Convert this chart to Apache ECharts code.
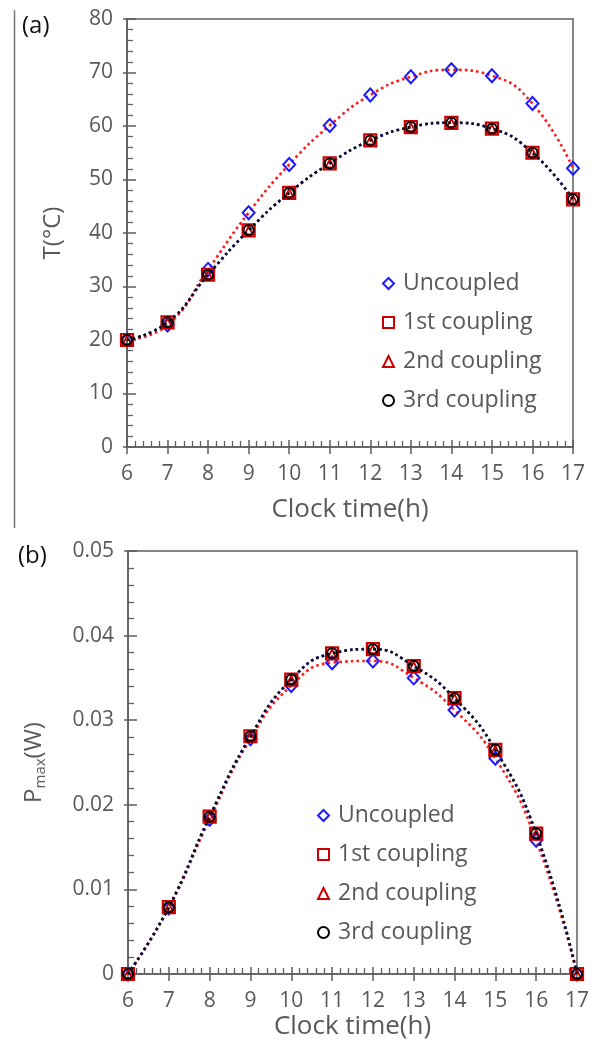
<!DOCTYPE html>
<html><head><meta charset="utf-8">
<script src="https://cdn.jsdelivr.net/npm/echarts@6/dist/echarts.min.js"></script>
<style>html,body{margin:0;padding:0;background:#fff}#c{width:597px;height:1048px}</style>
</head><body><div id="c"></div>
<script>
const hours = [6, 7, 8, 9, 10, 11, 12, 13, 14, 15, 16, 17];
const xTicks = ['6','7','8','9','10','11','12','13','14','15','16','17'];
const seriesNames = ['Uncoupled', '1st coupling', '2nd coupling', '3rd coupling'];
// (a) temperature
const tUncoupled = [20, 22.8, 33.2, 43.8, 52.8, 60.1, 65.8, 69.2, 70.5, 69.4, 64.2, 52.1];
const tCoupled1 = [20, 23.3, 32.2, 40.5, 47.5, 53.0, 57.3, 59.8, 60.6, 59.5, 55.0, 46.3];
const tCoupled2 = [20, 23.3, 32.2, 40.5, 47.5, 53.0, 57.3, 59.8, 60.6, 59.5, 55.0, 46.3];
const tCoupled3 = [20, 23.3, 32.2, 40.5, 47.5, 53.0, 57.3, 59.8, 60.6, 59.5, 55.0, 46.3];
const tTicks = ['0', '10', '20', '30', '40', '50', '60', '70', '80'];
// (b) max power
const pUncoupled = [0, 0.0078, 0.0183, 0.0278, 0.0341, 0.0368, 0.0370, 0.0350, 0.0312, 0.0255, 0.0158, 0];
const pCoupled1 = [0, 0.0079, 0.0186, 0.0281, 0.0348, 0.0379, 0.0384, 0.0364, 0.0326, 0.0265, 0.0166, 0];
const pCoupled2 = [0, 0.0079, 0.0186, 0.0281, 0.0348, 0.0379, 0.0384, 0.0364, 0.0326, 0.0265, 0.0166, 0];
const pCoupled3 = [0, 0.0079, 0.0186, 0.0281, 0.0348, 0.0379, 0.0384, 0.0364, 0.0326, 0.0265, 0.0166, 0];
const pTicks = ['0', '0.01', '0.02', '0.03', '0.04', '0.05'];

const FONT = 'Open Sans';
const GRAY = '#595959';
const AX = '#5e5e5e';

const pairs = (arr) => hours.map((h, i) => [h, arr[i]]);

const chart = echarts.init(document.getElementById('c'), null, {renderer: 'canvas'});

function xAxes(gi, name, nameGap) {
  return [{
    type: 'value', gridIndex: gi, min: 6, max: 17, interval: 1, position: 'bottom',
    name: name, nameLocation: 'middle', nameGap: nameGap,
    nameTextStyle: {fontFamily: FONT, fontSize: 26, color: GRAY},
    axisLine: {show: true, onZero: false, lineStyle: {color: AX, width: 1.5}},
    axisTick: {show: true, inside: false, length: 7, lineStyle: {color: AX, width: 1.5}},
    minorTick: {show: false},
    splitLine: {show: false},
    axisLabel: {fontFamily: FONT, fontSize: 21, color: GRAY, margin: 17,
      formatter: (v) => xTicks[hours.indexOf(v)] || ''}
  }, {
    type: 'value', gridIndex: gi, min: 6, max: 17, interval: 1, position: 'bottom',
    axisLine: {show: false, onZero: false},
    axisTick: {show: true, inside: true, length: 7, lineStyle: {color: AX, width: 1.5}},
    minorTick: {show: true, splitNumber: 5, length: 6, lineStyle: {color: AX, width: 1.3}},
    splitLine: {show: false}, axisLabel: {show: false}
  }];
}
function yAxes(gi, min, max, interval, nameRich, nameGap, fmt) {
  return [{
    type: 'value', gridIndex: gi, min: min, max: max, interval: interval, position: 'left',
    name: nameRich.text, nameLocation: 'middle', nameGap: nameGap, nameRotate: 90,
    nameTextStyle: Object.assign({fontFamily: FONT, fontSize: 24, color: GRAY}, nameRich.style || {}),
    axisLine: {show: true, onZero: false, lineStyle: {color: AX, width: 1.5}},
    axisTick: {show: true, inside: false, length: 4, lineStyle: {color: AX, width: 1.5}},
    minorTick: {show: false}, splitLine: {show: false},
    axisLabel: {fontFamily: FONT, fontSize: 21, color: GRAY, margin: 14, formatter: fmt}
  }, {
    type: 'value', gridIndex: gi, min: min, max: max, interval: interval, position: 'left',
    axisLine: {show: false, onZero: false},
    axisTick: {show: true, inside: true, length: 9, lineStyle: {color: AX, width: 1.5}},
    minorTick: {show: true, splitNumber: 5, length: 6, lineStyle: {color: AX, width: 1.3}},
    splitLine: {show: false}, axisLabel: {show: false}
  }];
}

function makeSeries(gi, data, sizes) {
  const xi = gi * 2, yi = gi * 2;
  const dot = (c) => ({color: c, width: 2.6, type: [2.6, 3.2], cap: 'butt'});
  return [
    {name: seriesNames[0], type: 'line', xAxisIndex: xi, yAxisIndex: yi, data: pairs(data[0]),
      smooth: 0.5, clip: false, symbol: 'diamond', symbolSize: [sizes[0], sizes[0] + 1],
      lineStyle: dot('#ff1a1a'),
      itemStyle: {color: 'rgba(255,255,255,0)', borderColor: '#1a1aff', borderWidth: 2}, z: 3},
    {name: seriesNames[1], type: 'line', xAxisIndex: xi, yAxisIndex: yi, data: pairs(data[1]),
      smooth: 0.5, clip: false, symbol: 'rect', symbolSize: sizes[1],
      lineStyle: dot('#2626ff'),
      itemStyle: {color: 'rgba(255,255,255,0)', borderColor: '#cc0000', borderWidth: 2.2}, z: 4},
    {name: seriesNames[2], type: 'line', xAxisIndex: xi, yAxisIndex: yi, data: pairs(data[2]),
      smooth: 0.5, clip: false, symbol: 'triangle', symbolSize: sizes[2],
      lineStyle: {width: 0, opacity: 0},
      itemStyle: {color: 'rgba(255,255,255,0)', borderColor: '#cc0000', borderWidth: 1.8}, z: 5},
    {name: seriesNames[3], type: 'line', xAxisIndex: xi, yAxisIndex: yi, data: pairs(data[3]),
      smooth: 0.5, clip: false, symbol: 'circle', symbolSize: sizes[3],
      lineStyle: dot('#111111'),
      itemStyle: {color: 'rgba(255,255,255,0)', borderColor: '#000000', borderWidth: 2}, z: 6}
  ];
}

function legend(left, top) {
  return {
    orient: 'vertical', left: left, top: top, itemWidth: 11, itemHeight: 11, itemGap: 16,
    textStyle: {fontFamily: FONT, fontSize: 23, color: GRAY, lineHeight: 22, padding: [0, 0, 0, 4]},
    selectedMode: false,
    data: [
      {name: seriesNames[0], icon: 'diamond', itemStyle: {color: '#fff', borderColor: '#1a1aff', borderWidth: 2}},
      {name: seriesNames[1], icon: 'rect', itemStyle: {color: '#fff', borderColor: '#cc0000', borderWidth: 2}},
      {name: seriesNames[2], icon: 'triangle', itemStyle: {color: '#fff', borderColor: '#cc0000', borderWidth: 2}},
      {name: seriesNames[3], icon: 'circle', itemStyle: {color: '#fff', borderColor: '#000', borderWidth: 2}}
    ]
  };
}

const option = {
  animation: false,
  backgroundColor: '#fff',
  grid: [
    {left: 127, right: 24, top: 19, height: 428, show: true, borderColor: AX, borderWidth: 1.5, backgroundColor: 'transparent'},
    {left: 128, right: 20, top: 551, height: 423, show: true, borderColor: AX, borderWidth: 1.5, backgroundColor: 'transparent'}
  ],
  xAxis: [].concat(xAxes(0, 'Clock time(h)', 50), xAxes(1, 'Clock time(h)', 40)),
  yAxis: [].concat(
    yAxes(0, 0, 80, 10, {text: 'T(°C)'}, 62, (v) => tTicks[Math.round(v / 10)]),
    yAxes(1, 0, 0.05, 0.01, {
      text: '{p|P}{s|max}{p|(W)}',
      style: {rich: {
        p: {fontFamily: FONT, fontSize: 24, color: GRAY, lineHeight: 28, verticalAlign: 'middle'},
        s: {fontFamily: FONT, fontSize: 15, color: GRAY, lineHeight: 15, verticalAlign: 'bottom', padding: [10, 0, 0, 0]}
      }}
    }, 80, (v) => pTicks[Math.round(v / 0.01)])
  ),
  legend: [legend(377, 267), legend(312, 799)],
  series: [].concat(
    makeSeries(0, [tUncoupled, tCoupled1, tCoupled2, tCoupled3], [12, 12, 8, 10]),
    makeSeries(1, [pUncoupled, pCoupled1, pCoupled2, pCoupled3], [12, 12, 8, 10])
  ),
  graphic: [
    {type: 'line', shape: {x1: 14.5, y1: 10, x2: 14.5, y2: 528}, style: {stroke: '#777', lineWidth: 1.5}},
    {type: 'text', left: 22, top: 14, style: {text: '(a)', fontFamily: FONT, fontSize: 24, fill: '#111'}},
    {type: 'text', left: 18, top: 544, style: {text: '(b)', fontFamily: FONT, fontSize: 24, fill: '#111'}}
  ]
};
chart.setOption(option);
</script></body></html>
